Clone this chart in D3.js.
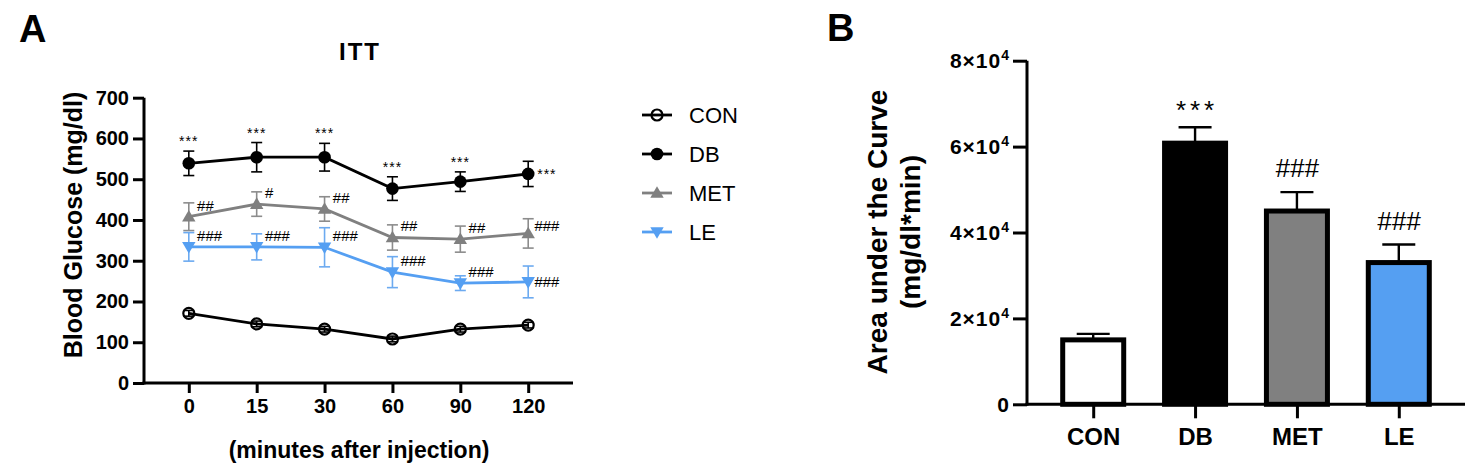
<!DOCTYPE html>
<html>
<head>
<meta charset="utf-8">
<script src="https://cdn.jsdelivr.net/npm/d3@7.9.0/dist/d3.min.js"></script>
<style>
  body { margin: 0; background: #fff; }
  svg text { font-family: 'Liberation Sans', Arial, sans-serif; }
</style>
</head>
<body>
<svg id="fig" width="1477" height="472"></svg>
<script>
// ---- panel A data (ITT) ----
const times = ['0', '15', '30', '60', '90', '120'];
const conMean = [171, 145, 132, 108, 132, 142];
const conErr = [7, 7, 7, 7, 7, 7];
const dbMean = [539, 554, 554, 477, 494, 513];
const dbErr = [30, 36, 34, 29, 24, 31];
const metMean = [408, 439, 427, 357, 353, 367];
const metErr = [34, 30, 30, 31, 32, 36];
const leMean = [334, 334, 333, 272, 245, 248];
const leErr = [35, 32, 48, 38, 18, 39];
const dbMarks = ['***', '***', '***', '***', '***', '***'];
const metMarks = ['##', '#', '##', '##', '##', '###'];
const leMarks = ['###', '###', '###', '###', '###', '###'];
const yTicksA = [0, 100, 200, 300, 400, 500, 600, 700];

// ---- panel B data (AUC) ----
const groups = ['CON', 'DB', 'MET', 'LE'];
const aucMean = [15000, 60800, 45000, 33000];
const aucErr = [1400, 3700, 4400, 4200];
const aucMarks = ['', '***', '###', '###'];
const yTicksB = [0, 20000, 40000, 60000, 80000];

const blue = '#559ff2';
const gray = '#808080';

const series = [
  { name: 'CON', mean: conMean, err: conErr, marks: null, color: '#000', errColor: '#000', shape: 'open' },
  { name: 'DB', mean: dbMean, err: dbErr, marks: dbMarks, color: '#000', errColor: '#000', shape: 'dot' },
  { name: 'MET', mean: metMean, err: metErr, marks: metMarks, color: gray, errColor: '#8c8c8c', shape: 'up' },
  { name: 'LE', mean: leMean, err: leErr, marks: leMarks, color: blue, errColor: '#6caaf0', shape: 'down' },
];

const svg = d3.select('#fig');

function styleAxis(g, w) {
  g.select('.domain').attr('stroke', '#000').attr('stroke-width', w);
  g.selectAll('.tick line').attr('stroke', '#000').attr('stroke-width', w);
  g.selectAll('.tick text').attr('fill', '#000').attr('font-weight', 'bold');
}

function drawMarker(g, shape, x, y, color) {
  if (shape === 'open') {
    g.append('circle').attr('cx', x).attr('cy', y).attr('r', 5.5)
      .attr('fill', 'none').attr('stroke', color).attr('stroke-width', 2.2);
  } else if (shape === 'dot') {
    g.append('circle').attr('cx', x).attr('cy', y).attr('r', 6.3).attr('fill', color);
  } else {
    const sym = d3.symbol().type(d3.symbolTriangle).size(78);
    g.append('path').attr('d', sym())
      .attr('transform', `translate(${x},${y + (shape === 'up' ? 1 : -1)}) rotate(${shape === 'up' ? 0 : 180})`)
      .attr('fill', color);
  }
}

// ================= Panel A =================
const xA = d3.scalePoint().domain(times).range([144, 573]).padding(0.66);
const yA = d3.scaleLinear().domain([0, 700]).range([383, 97.7]);

svg.append('text').attr('x', 19).attr('y', 42).attr('font-size', 38).attr('font-weight', 'bold').text('A');
svg.append('text').attr('x', 360).attr('y', 60).attr('text-anchor', 'middle')
  .attr('font-size', 24).attr('font-weight', 'bold').attr('letter-spacing', 2).text('ITT');

const plotA = svg.append('g');

series.forEach((s) => {
  const g = plotA.append('g');
  // error bars
  times.forEach((t, i) => {
    const x = xA(t);
    const y0 = yA(s.mean[i] - s.err[i]);
    const y1 = yA(s.mean[i] + s.err[i]);
    g.append('line').attr('x1', x).attr('x2', x).attr('y1', y0).attr('y2', y1)
      .attr('stroke', s.errColor).attr('stroke-width', 1.6);
    [y0, y1].forEach((yy) => {
      g.append('line').attr('x1', x - 5.5).attr('x2', x + 5.5).attr('y1', yy).attr('y2', yy)
        .attr('stroke', s.errColor).attr('stroke-width', 1.6);
    });
  });
  // connecting line
  const line = d3.line().x((d, i) => xA(times[i])).y((d) => yA(d));
  g.append('path').datum(s.mean).attr('d', line)
    .attr('fill', 'none').attr('stroke', s.color).attr('stroke-width', 2.8);
  // markers
  times.forEach((t, i) => drawMarker(g, s.shape, xA(t), yA(s.mean[i]), s.color));
  // significance marks
  if (s.marks) {
    s.marks.forEach((m, i) => {
      const x = xA(times[i]);
      const last = i === times.length - 1;
      const t = g.append('text').attr('fill', '#000').text(m);
      if (m.startsWith('*')) {
        t.attr('font-size', 14).attr('letter-spacing', 1);
        if (last) {
          t.attr('x', x + 9).attr('y', yA(s.mean[i]) + 5);
        } else {
          t.attr('x', x).attr('y', yA(s.mean[i] + s.err[i]) - 5).attr('text-anchor', 'middle');
        }
      } else {
        t.attr('font-size', 15).attr('font-style', 'italic');
        const cy = last ? yA(s.mean[i]) - (s.name === 'MET' ? 7 : 0) : yA(s.mean[i]) - 11;
        t.attr('x', x + (last ? 6 : 8)).attr('y', cy + 5);
      }
    });
  }
});

const yAxisA = svg.append('g').attr('transform', 'translate(144,0)')
  .call(d3.axisLeft(yA).tickValues(yTicksA).tickSize(11).tickSizeOuter(0).tickPadding(4));
styleAxis(yAxisA, 3);
yAxisA.selectAll('.tick text').attr('font-size', 20);
yAxisA.select('.domain').attr('d', 'M0,384.5V97.7');

const xAxisA = svg.append('g').attr('transform', 'translate(0,383)')
  .call(d3.axisBottom(xA).tickSize(10).tickSizeOuter(0).tickPadding(6));
styleAxis(xAxisA, 3);
xAxisA.selectAll('.tick text').attr('font-size', 20);
xAxisA.select('.domain').attr('d', 'M142.5,0H573');

svg.append('text').attr('transform', 'translate(82,225) rotate(-90)').attr('text-anchor', 'middle')
  .attr('font-size', 25).attr('font-weight', 'bold').text('Blood Glucose (mg/dl)');
svg.append('text').attr('x', 359).attr('y', 458).attr('text-anchor', 'middle')
  .attr('font-size', 23).attr('font-weight', 'bold').text('(minutes after injection)');

// legend
const legY = d3.scalePoint().domain(series.map((s) => s.name)).range([115, 232]);
series.forEach((s) => {
  const g = svg.append('g');
  const y = legY(s.name);
  g.append('line').attr('x1', 642).attr('x2', 672).attr('y1', y).attr('y2', y)
    .attr('stroke', s.color).attr('stroke-width', 2.8);
  drawMarker(g, s.shape, 657, y, s.color);
  g.append('text').attr('x', 689).attr('y', y + 8).attr('font-size', 22).text(s.name);
});

// ================= Panel B =================
const xB = d3.scalePoint().domain(groups).range([1027, 1465]).padding(0.65);
const yB = d3.scaleLinear().domain([0, 80000]).range([404.3, 60.7]);
const barFill = { CON: '#fff', DB: '#000', MET: gray, LE: blue };
const barW = 61;

svg.append('text').attr('x', 827).attr('y', 41).attr('font-size', 38).attr('font-weight', 'bold').text('B');

const plotB = svg.append('g');
groups.forEach((gname, i) => {
  const x = xB(gname);
  const v = aucMean[i];
  const top = yB(aucMean[i] + aucErr[i]);
  plotB.append('line').attr('x1', x).attr('x2', x).attr('y1', yB(v)).attr('y2', top)
    .attr('stroke', '#000').attr('stroke-width', 2.4);
  plotB.append('line').attr('x1', x - 16.5).attr('x2', x + 16.5).attr('y1', top).attr('y2', top)
    .attr('stroke', '#000').attr('stroke-width', 2.4);
  plotB.append('rect').attr('x', x - barW / 2).attr('y', yB(v))
    .attr('width', barW).attr('height', yB(0) - yB(v))
    .attr('fill', barFill[gname]).attr('stroke', '#000').attr('stroke-width', 5);
  if (aucMarks[i]) {
    const star = aucMarks[i].startsWith('*');
    plotB.append('text').attr('x', x + (star ? 2 : 0)).attr('y', top - (star ? 8 : 15))
      .attr('text-anchor', 'middle').attr('font-size', 26)
      .attr('letter-spacing', star ? 4 : 0).attr('font-style', star ? 'normal' : 'italic')
      .text(aucMarks[i]);
  }
});

const yAxisB = svg.append('g').attr('transform', 'translate(1027,0)')
  .call(d3.axisLeft(yB).tickValues(yTicksB).tickSize(14).tickSizeOuter(0).tickPadding(3).tickFormat(() => ''));
styleAxis(yAxisB, 3);
yAxisB.select('.domain').attr('d', 'M0,405.8V60.7');
yAxisB.selectAll('.tick text').each(function (d) {
  const t = d3.select(this).attr('font-size', 21).attr('letter-spacing', 1);
  if (d === 0) {
    t.text('0');
  } else {
    t.append('tspan').text(`${d / 10000}×10`);
    t.append('tspan').attr('font-size', 14).attr('dy', -8).text('4');
  }
});

const xAxisB = svg.append('g').attr('transform', 'translate(0,404.3)')
  .call(d3.axisBottom(xB).tickSize(14).tickSizeOuter(0).tickPadding(10));
styleAxis(xAxisB, 3);
xAxisB.select('.domain').attr('d', 'M1025.5,0H1465');
xAxisB.selectAll('.tick text').attr('font-size', 24);

svg.append('text').attr('transform', 'translate(232) rotate(-90)').attr('font-size', 28)
  .attr('font-weight', 'bold').attr('text-anchor', 'middle')
  .attr('transform', 'translate(887,232) rotate(-90)').text('Area under the Curve');
svg.append('text').attr('font-size', 28).attr('font-weight', 'bold').attr('text-anchor', 'middle')
  .attr('transform', 'translate(920,232) rotate(-90)').text('(mg/dl*min)');
</script>
</body>
</html>
